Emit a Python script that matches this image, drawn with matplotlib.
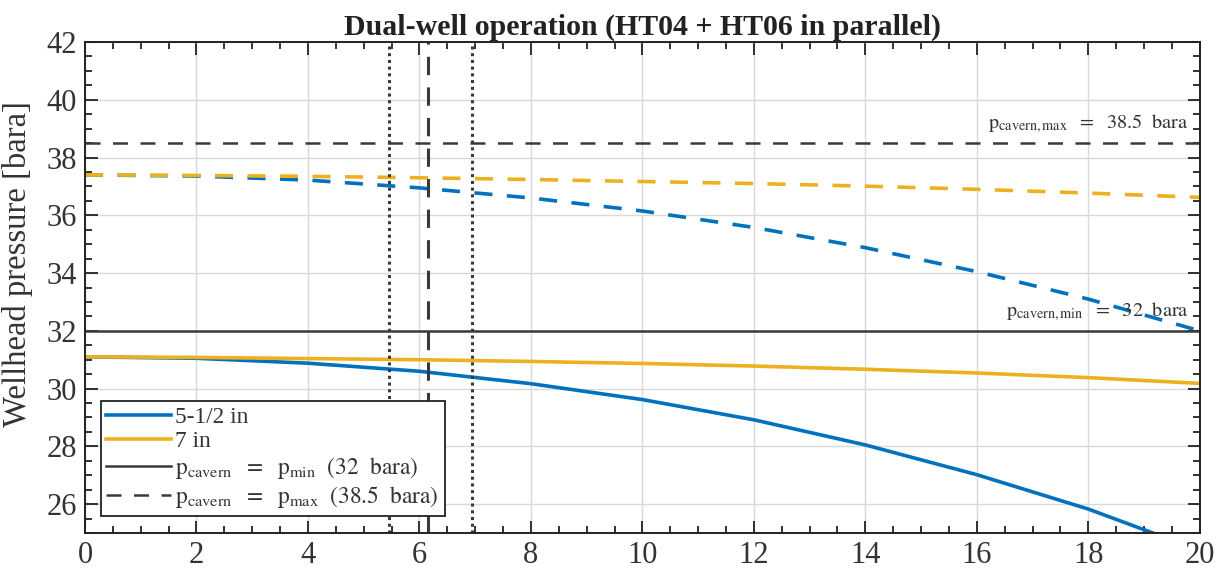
import numpy as np
import matplotlib
matplotlib.use("Agg")
import matplotlib.pyplot as plt
from matplotlib.ticker import MultipleLocator

plt.rcParams['font.family'] = ['Liberation Serif', 'DejaVu Serif']
plt.rcParams['mathtext.fontset'] = 'stix'

# flow rate axis
x_pts = [0, 2, 4, 6, 8, 10, 12, 14, 16, 18, 20]

# solid curves: lower pressure
p_55_solid = [31.10, 31.05, 30.88, 30.60, 30.17, 29.62, 28.92, 28.05, 27.02, 25.83, 24.40]
p_7_solid = [31.10, 31.08, 31.04, 31.00, 30.94, 30.87, 30.78, 30.67, 30.54, 30.38, 30.18]

# dashed curves: upper pressure
p_55_dash = [37.40, 37.36, 37.22, 36.95, 36.60, 36.15, 35.58, 34.88, 34.05, 33.10, 32.00]
p_7_dash = [37.40, 37.38, 37.35, 37.30, 37.24, 37.17, 37.10, 37.01, 36.90, 36.77, 36.62]

p_min = 32.0
p_max = 38.5
x_dotted = [5.45, 6.95]
x_dashed = 6.15

blue = '#0072BD'
orange = '#EDB120'
grey = '#3a3a3a'
txt = '#333333'

fig = plt.figure(figsize=(12.18, 5.74), dpi=100)
ax = fig.add_axes([0.0698, 0.0714, 0.9152, 0.8554])

l1, = ax.plot(x_pts, p_55_solid, color=blue, lw=2.6, label='5-1/2 in')
l2, = ax.plot(x_pts, p_7_solid, color=orange, lw=2.6, label='7 in')
ax.plot(x_pts, p_55_dash, color=blue, lw=2.6, dashes=(5, 4))
ax.plot(x_pts, p_7_dash, color=orange, lw=2.6, dashes=(5, 4))

l3 = ax.axhline(p_min, color=grey, lw=1.8,
                label=r'$\mathrm{p_{cavern}\ \ =\ \ p_{min}\ \ (32\ \ bara)}$')
l4 = ax.axhline(p_max, color=grey, lw=1.8, dashes=(6, 5),
                label=r'$\mathrm{p_{cavern}\ \ =\ \ p_{max}\ \ (38.5\ \ bara)}$')

for xv in x_dotted:
    ax.axvline(xv, color=grey, lw=2.2, ls=(0, (1, 1.2)))
ax.axvline(x_dashed, color=grey, lw=2.2, dashes=(6, 4))

ax.text(19.8, p_max + 0.28, r'$\mathrm{p_{cavern,max}\ \ =\ \ 38.5\ \ bara}$',
        ha='right', va='bottom', fontsize=14.6, color=txt)
ax.text(19.8, p_min + 0.28, r'$\mathrm{p_{cavern,min}\ \ =\ \ 32\ \ bara}$',
        ha='right', va='bottom', fontsize=14.6, color=txt)

ax.set_xlim(0, 20)
ax.set_ylim(25, 42)
ax.xaxis.set_major_locator(MultipleLocator(2))
ax.xaxis.set_minor_locator(MultipleLocator(0.5))
ax.yaxis.set_major_locator(MultipleLocator(2))
ax.yaxis.set_minor_locator(MultipleLocator(0.5))
ax.tick_params(which='both', direction='in', top=True, right=True,
               labelsize=22, width=1.3, color='#222222', labelcolor=txt)
ax.tick_params(which='major', length=9, pad=6)
ax.tick_params(which='minor', length=5)
ax.grid(True, which='major', color='#d9d9d9', lw=1)
ax.set_axisbelow(True)
for s in ax.spines.values():
    s.set_linewidth(1.4)
    s.set_color('#222222')

ax.set_ylabel('Wellhead pressure [bara]', fontsize=23.6, color=txt)
ax.yaxis.set_label_coords(-0.047, 0.548)
ax.set_title('Dual-well operation (HT04 + HT06 in parallel)',
             fontsize=21.5, fontweight='bold', pad=5, color='#222222')

leg = ax.legend(handles=[l1, l2, l3, l4], loc='lower left',
                bbox_to_anchor=(0.014, 0.035), fontsize=16.8,
                handlelength=2.75, handletextpad=0.2, labelspacing=0.12,
                borderpad=0.25, borderaxespad=0, fancybox=False, framealpha=1,
                edgecolor='#222222')
leg.get_frame().set_linewidth(1.3)
for t in leg.get_texts():
    t.set_color(txt)

fig.savefig('out.png', dpi=100)
